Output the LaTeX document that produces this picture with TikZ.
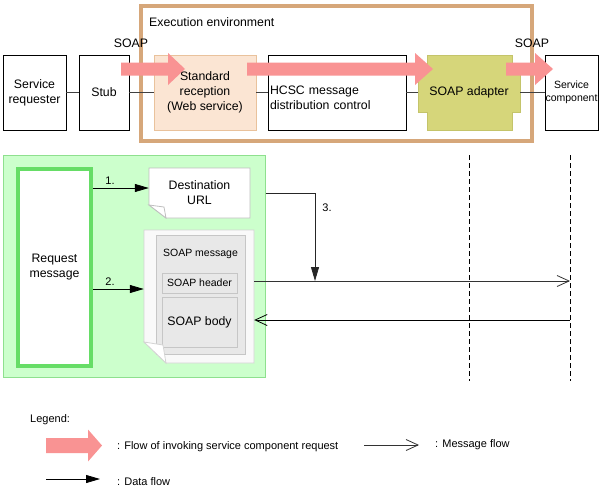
\documentclass[tikz,border=0pt]{standalone}
\usepackage{fontspec}
\setmainfont{Liberation Sans}
\usetikzlibrary{arrows.meta}
\definecolor{pinkc}{HTML}{F99393}
\definecolor{envc}{HTML}{D6A77A}
\definecolor{stdfill}{HTML}{FBE5D3}
\definecolor{stddraw}{HTML}{E9C29C}
\definecolor{adpfill}{HTML}{D6D67A}
\definecolor{adpdraw}{HTML}{C4C46A}
\definecolor{grnfill}{HTML}{CCFFCC}
\definecolor{grndraw}{HTML}{8EE08E}
\definecolor{reqdraw}{HTML}{66DD66}
\definecolor{docdraw}{HTML}{BFBFBF}
\definecolor{soapfill}{HTML}{F9F9F9}
\definecolor{soapdraw}{HTML}{D4D4D4}
\definecolor{innerfill}{HTML}{E8E8E8}
\definecolor{innerdraw}{HTML}{C6C6C6}
\newcommand\ftA{\fontsize{12.3}{15}\selectfont}
\newcommand\ftB{\fontsize{10.5}{13}\selectfont}
\newcommand\ftC{\fontsize{11}{14}\selectfont}
\newcommand\pinkarrow[5]{\fill[pinkc] (#1,#4-#5) -- (#2,#4-#5) -- (#2,#4-16) -- (#3,#4) -- (#2,#4+16) -- (#2,#4+#5) -- (#1,#4+#5) -- cycle;}
\tikzset{
  plainbox/.style={draw=black, line width=0.8pt, fill=white, inner sep=0pt, align=center, font=\ftA, minimum height=75pt},
  txt/.style={inner sep=0pt, align=center, font=\ftA},
  conn/.style={draw=black!75, line width=0.8pt},
  dataarrow/.style={draw=black, line width=0.8pt, -{Triangle[length=14pt,width=8pt]}},
  msgarrow/.style={draw=black!80, line width=0.8pt, -{Straight Barb[length=12pt,width=11pt]}},
  lifeline/.style={draw=black, line width=0.9pt, dash pattern=on 5pt off 3pt},
  innerbox/.style={draw=innerdraw, fill=innerfill, line width=0.8pt, inner sep=0pt, align=center}
}
\begin{document}
\begin{tikzpicture}[x=1pt,y=-1pt]
\useasboundingbox[fill=white] (0,0) rectangle (601,493);
% execution environment
\node[draw=envc, line width=3.5pt, minimum width=391pt, minimum height=135pt, inner sep=0pt] (env) at (336.5,73.5) {};
\node[txt, anchor=west] (envl) at (149,22) {Execution environment};
% top row boxes
\node[plainbox, minimum width=63pt] (sr) at (34.5,92.5) {Service\\requester};
\node[plainbox, minimum width=50pt] (stub) at (104,92.5) {Stub};
\node[plainbox, fill=stdfill, draw=stddraw, minimum width=102pt] (std) at (205,92.5) {};
\node[plainbox, minimum width=138pt] (hcsc) at (337,92.5) {};
\node[txt, text width=134pt, align=left] (hcsct) at ([yshift=-5pt]hcsc.center) {HCSC message\\distribution control};
\filldraw[fill=adpfill, draw=adpdraw, line width=0.8pt] (427,55) -- (512,55) -- (512,70) -- (520,70) -- (520,112) -- (512,112) -- (512,130) -- (427,130) -- (427,112) -- (418,112) -- (418,70) -- (427,70) -- cycle;
\node[txt, minimum width=102pt, minimum height=75pt] (adp) at (469,92.5) {SOAP adapter};
\node[plainbox, minimum width=53pt, font=\ftB] (sc) at (571.5,92.5) {Service\\component};
\draw[conn] (sr.east) -- (stub.west);
\draw[conn] (stub.east) -- (std.west);
\draw[conn] (std.east) -- (hcsc.west);
\draw[conn] (hcsc.east) -- (adp.west);
\draw[conn] (adp.east) -- (sc.west);
\node[txt] (soap1) at (131,43) {SOAP};
\node[txt] (soap2) at (532,43) {SOAP};
% pink flow arrows
\pinkarrow{121}{168}{185}{69}{6.5}
\pinkarrow{247}{415}{433}{69}{6.5}
\pinkarrow{506}{535}{553}{69}{6.5}
\node[txt] (stdt) at (std) {Standard\\reception\\(Web service)};
% green area
\node[draw=grndraw, fill=grnfill, line width=1pt, minimum width=262pt, minimum height=222pt] (grn) at (134,266) {};
\node[draw=reqdraw, fill=white, line width=4pt, minimum width=73pt, minimum height=197pt, txt] (req) at (54.5,267.5) {Request\\message};
% destination URL document
\filldraw[fill=white, draw=docdraw, line width=0.8pt] (149,168) -- (250,168) -- (250,218) -- (166,218) -- (149,205) -- cycle;
\filldraw[fill=white, draw=docdraw, line width=0.8pt] (149,205) -- (164,207) -- (166,218) -- cycle;
\node[txt, minimum width=101pt, minimum height=50pt] (dest) at (199.5,193) {Destination\\URL};
% SOAP message document
\filldraw[fill=soapfill, draw=soapdraw, line width=0.8pt] (144,230) -- (254,230) -- (254,363) -- (166,363) -- (144,342) -- cycle;
\node[inner sep=0pt, minimum width=110pt, minimum height=133pt] (soapdoc) at (199,296.5) {};
\node[innerbox, minimum width=89pt, minimum height=119pt] (smsg) at (200.5,294.5) {};
\node[txt, font=\ftB] (smsgt) at (200.5,254) {SOAP message};
\node[innerbox, minimum width=75pt, minimum height=20pt, font=\ftB] (shdr) at (199.5,283) {SOAP header};
\node[innerbox, minimum width=75pt, minimum height=50pt, font=\ftA] (sbody) at (199.5,322) {SOAP body};
\filldraw[fill=white, draw=soapdraw, line width=0.8pt] (144,342) -- (163,345) -- (166,363) -- cycle;
% data flows
\coordinate (a1) at ([yshift=5pt]dest.west);
\draw[dataarrow] (req.east |- a1) -- (a1);
\node[txt, font=\ftC] (l1) at (110,181) {1.};
\coordinate (a2) at ([yshift=7.5pt]soapdoc.west);
\draw[dataarrow] (req.east |- a2) -- (a2);
\node[txt, font=\ftC] (l2) at (110,282) {2.};
% lifelines
\coordinate (ll1t) at (469,155);
\coordinate (ll1b) at (469,381);
\coordinate (ll2t) at (570,155);
\coordinate (ll2b) at (570,381);
\draw[lifeline] (ll1t) -- (ll1b);
\draw[lifeline] (ll2t) -- (ll2b);
% messages
\coordinate (m1) at ([yshift=15.5pt]soapdoc.east);
\coordinate (r1) at ([yshift=-23.5pt]soapdoc.east);
\draw[msgarrow] (m1) -- (ll2t |- m1);
\draw[msgarrow, draw=black] (ll2t |- r1) -- (r1);
\coordinate (c3) at (315,193);
\draw[dataarrow, draw=black!85] (grn.east |- dest.east) -- (c3) -- (c3 |- m1);
\node[txt, font=\ftC] (l3) at (327,208) {3.};
% legend
\node[txt, font=\ftC, anchor=west] (leg) at (30,420) {Legend:};
\pinkarrow{46}{88}{102}{445.5}{7.5}
\node[txt, font=\ftC, anchor=west] (lg1) at (117,447) {: Flow of invoking service component request};
\coordinate (lm1) at (364,445);
\coordinate (lm2) at (419,445);
\draw[msgarrow] (lm1) -- (lm2);
\node[txt, font=\ftC, anchor=west] (lg2) at (435,445) {: Message flow};
\coordinate (ld1) at (46,479);
\coordinate (ld2) at (100,479);
\draw[dataarrow] (ld1) -- (ld2);
\node[txt, font=\ftC, anchor=west] (lg3) at (117,482) {: Data flow};
\end{tikzpicture}
\end{document}
